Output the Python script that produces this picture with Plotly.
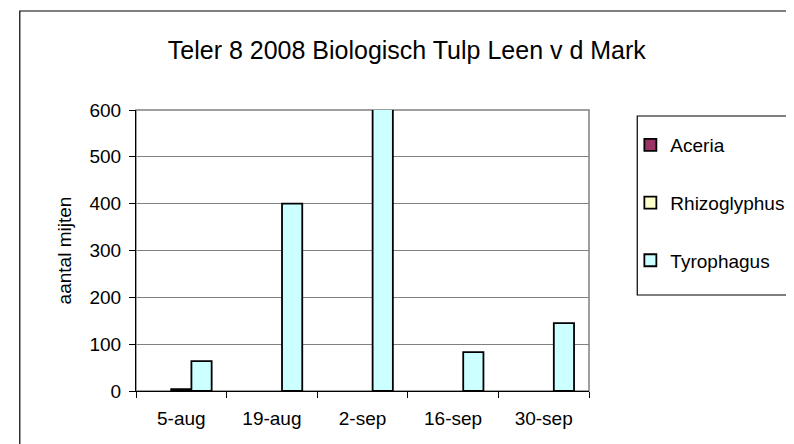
import plotly.graph_objects as go

categories = ["5-aug", "19-aug", "2-sep", "16-sep", "30-sep"]
aceria = [0, 0, 0, 0, 0]
rhizoglyphus = [4, 0, 0, 0, 0]
tyrophagus = [64, 400, 650, 83, 145]
y_ticks = [0, 100, 200, 300, 400, 500, 600]

W, H = 794, 444
L, R, T, B = 128, 588, 102, 383  # plot area in px


def px_x(px):
    return (px - L) / (R - L)


def px_y(py):
    return (B - py) / (B - T)


FONT = "Liberation Sans, Arial, sans-serif"

fig = go.Figure()
series = [
    ("Aceria", aceria, "#993366"),
    ("Rhizoglyphus", rhizoglyphus, "#FFFFCC"),
    ("Tyrophagus", tyrophagus, "#CCFFFF"),
]
for name, vals, col in series:
    # zero values are not drawn (as in the original spreadsheet chart)
    fig.add_trace(go.Bar(
        x=categories, y=[v if v > 0 else None for v in vals],
        name=name, legendgroup=name,
        marker=dict(color=col, line=dict(color="black", width=1.8)),
    ))

fig.update_layout(
    width=W, height=H,
    margin=dict(l=L, r=W - R, t=T, b=H - B, pad=0),
    paper_bgcolor="white", plot_bgcolor="white",
    barmode="group", bargap=0.33, bargroupgap=0,
    font=dict(family=FONT, size=19, color="black"),
    title=dict(text="Teler 8 2008 Biologisch Tulp Leen v d Mark",
               font=dict(family=FONT, size=25, color="black"),
               x=px_x(403), xref="paper", xanchor="center",
               y=1 - 42 / H, yref="container", yanchor="middle"),
    showlegend=True,
    legend=dict(x=px_x(630), y=px_y(118), xanchor="left", yanchor="top",
                bgcolor="rgba(0,0,0,0)", borderwidth=0,
                font=dict(family=FONT, size=19, color="black"),
                tracegroupgap=30, traceorder="grouped"),
    xaxis=dict(type="category", showgrid=False, showline=True,
               linecolor="black", linewidth=1, ticks="outside",
               ticklen=6, tickcolor="black", tickson="boundaries",
               tickfont=dict(family=FONT, size=19), ticklabelstandoff=10,
               zeroline=False),
    yaxis=dict(range=[0, 600], tickvals=y_ticks, showgrid=True,
               gridcolor="#808080", gridwidth=1, showline=True,
               linecolor="black", linewidth=1, ticks="outside", ticklen=6,
               tickcolor="black", tickfont=dict(family=FONT, size=19),
               ticklabelstandoff=4, zeroline=False,
               title=dict(text="aantal mijten", standoff=12,
                          font=dict(family=FONT, size=19))),
)

# plot-area frame (gray, Excel style)
fig.add_shape(type="rect", xref="paper", yref="paper", x0=0, x1=1, y0=0, y1=1,
              line=dict(color="#808080", width=1.5), layer="below")
# chart-area border
fig.add_shape(type="rect", xref="paper", yref="paper",
              x0=px_x(10), x1=px_x(812), y0=px_y(3), y1=px_y(460),
              line=dict(color="black", width=1.2), layer="below")
# legend frame
fig.add_shape(type="rect", xref="paper", yref="paper",
              x0=px_x(637), x1=px_x(812), y0=px_y(108), y1=px_y(287),
              line=dict(color="black", width=1.2), layer="below")

fig.write_html("out.html")
